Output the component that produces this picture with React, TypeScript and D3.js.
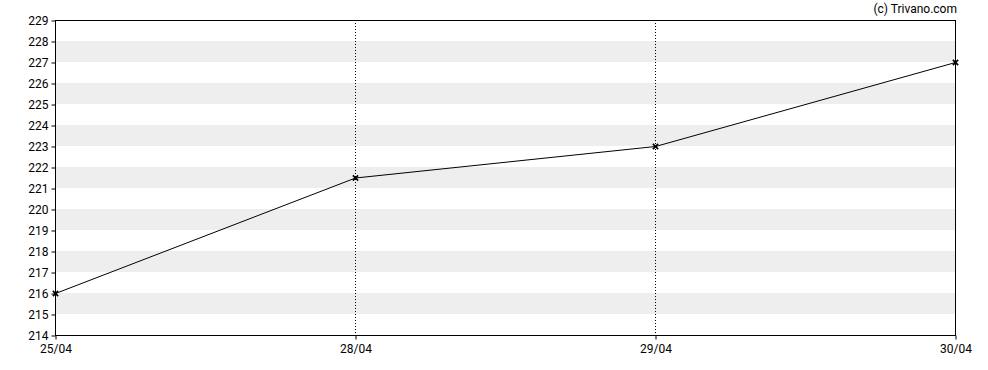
import * as d3 from "d3";
import { useEffect, useRef } from "react";

const dates = ["25/04", "28/04", "29/04", "30/04"];
const prices = [216, 221.5, 223, 227];
const yTicks = d3.range(214, 230, 1);

const width = 988;
const height = 370;
const margin = { top: 20, right: 33, bottom: 35, left: 55 };

export default function App() {
  const svgRef = useRef<SVGSVGElement | null>(null);

  useEffect(() => {
    const svg = d3.select(svgRef.current);
    svg.selectAll("*").remove();

    const x = d3
      .scalePoint()
      .domain(dates)
      .range([margin.left, width - margin.right]);

    const y = d3
      .scaleLinear()
      .domain([214, 229])
      .range([height - margin.bottom, margin.top]);

    const font = "Roboto, 'Liberation Sans', Arial, sans-serif";

    // Alternating grey bands
    svg
      .append("g")
      .selectAll("rect")
      .data(yTicks.filter((v) => v % 2 === 1 && v < 229))
      .join("rect")
      .attr("x", margin.left)
      .attr("y", (d) => y(d + 1))
      .attr("width", width - margin.right - margin.left)
      .attr("height", (d) => y(d) - y(d + 1))
      .attr("fill", "#eeeeee");

    // Vertical dotted lines
    svg
      .append("g")
      .selectAll("line")
      .data(dates.slice(1, -1))
      .join("line")
      .attr("x1", (d) => x(d)! + 0.5)
      .attr("x2", (d) => x(d)! + 0.5)
      .attr("y1", margin.top)
      .attr("y2", height - margin.bottom)
      .attr("stroke", "#000")
      .attr("stroke-dasharray", "1,2");

    // Frame
    svg
      .append("rect")
      .attr("x", margin.left + 0.5)
      .attr("y", margin.top + 0.5)
      .attr("width", width - margin.right - margin.left)
      .attr("height", height - margin.bottom - margin.top)
      .attr("fill", "none")
      .attr("stroke", "#000");

    // Y axis
    const yAxis = svg
      .append("g")
      .attr("transform", `translate(${margin.left + 0.5},0.5)`)
      .call(d3.axisLeft(y).tickValues(yTicks).tickSize(4).tickPadding(3).tickFormat(d3.format("d")));
    yAxis.select(".domain").remove();
    yAxis.selectAll("text").style("font-family", font).style("font-size", "12px").attr("fill", "#000");

    // X axis
    const xAxis = svg
      .append("g")
      .attr("transform", `translate(0.5,${height - margin.bottom + 0.5})`)
      .call(d3.axisBottom(x).tickSize(4).tickPadding(5));
    xAxis.select(".domain").remove();
    xAxis.selectAll("text").style("font-family", font).style("font-size", "12px").attr("fill", "#000");

    // Line
    const line = d3
      .line<number>()
      .x((_, i) => x(dates[i])! + 0.5)
      .y((d) => y(d) + 0.5);

    svg
      .append("path")
      .datum(prices)
      .attr("d", line)
      .attr("fill", "none")
      .attr("stroke", "#000")
      .attr("stroke-width", 1);

    // Markers
    svg
      .append("g")
      .selectAll("path")
      .data(prices)
      .join("path")
      .attr("d", d3.symbol(d3.symbolTimes, 20)())
      .attr("transform", (d, i) => `translate(${x(dates[i])! + 0.5},${y(d) + 0.5})`)
      .attr("fill", "none")
      .attr("stroke", "#000")
      .attr("stroke-width", 1.6);

    svg
      .append("text")
      .attr("x", width - margin.right + 2)
      .attr("y", 13)
      .attr("text-anchor", "end")
      .style("font-family", font)
      .style("font-size", "12px")
      .text("(c) Trivano.com");
  }, []);

  return (
    <svg
      ref={svgRef}
      width={width}
      height={height}
      style={{ position: "absolute", left: 0, top: 0, background: "#fff" }}
    />
  );
}
